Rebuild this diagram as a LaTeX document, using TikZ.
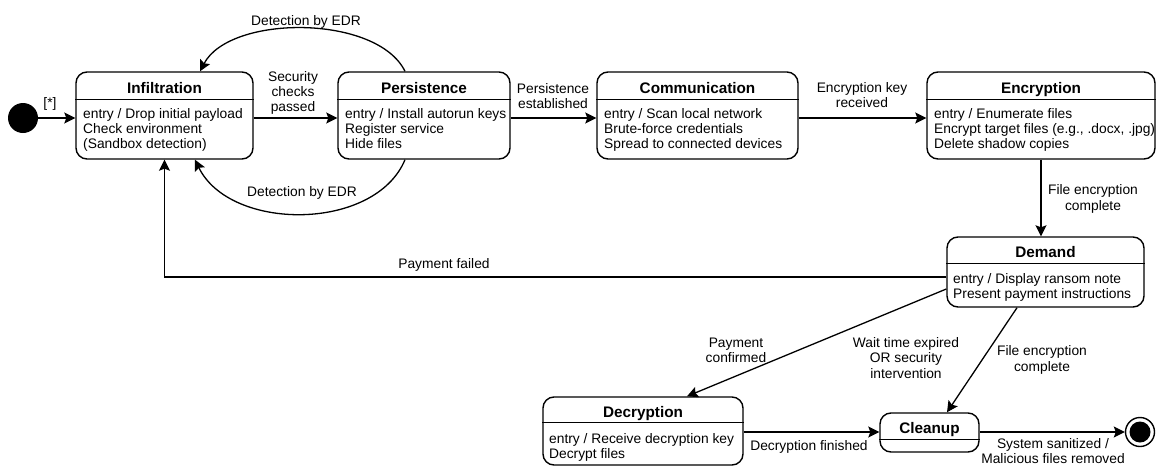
\documentclass[tikz,border=0pt]{standalone}
\usepackage{fontspec}
\setmainfont{Liberation Sans}
\usetikzlibrary{arrows.meta,calc}
\begin{document}
\begin{tikzpicture}[x=1pt,y=-1pt,
  stbox/.style={draw, line width=1.4pt, rounded corners=11pt, inner sep=0pt},
  ttl/.style={anchor=base, inner sep=0pt, font=\bfseries\fontsize{15.3}{17}\selectfont},
  body/.style={anchor=north west, inner sep=0pt, align=left, font=\fontsize{13.8}{15.3}\selectfont},
  lbl/.style={inner sep=0pt, align=center, font=\fontsize{13.8}{15.3}\selectfont},
  arr/.style={line width=1.3pt, -{Stealth[length=11pt,width=11pt,inset=2pt]}},
  sepline/.style={line width=1.3pt}]
\useasboundingbox (0,0) rectangle (1157,466);

% Infiltration
\node[stbox, minimum width=177pt, minimum height=87pt] (inf) at (164.5,115.5) {};
\draw[sepline] ($(inf.north west)+(0,28)$) -- ($(inf.north east)+(0,28)$);
\node[ttl] (infT) at (164.5,93) {Infiltration};
\node[body] (infB) at (83,108) {entry / Drop initial payload\\Check environment\\(Sandbox detection)};

% Persistence
\node[stbox, minimum width=172pt, minimum height=87pt] (per) at (424,115.5) {};
\draw[sepline] ($(per.north west)+(0,28)$) -- ($(per.north east)+(0,28)$);
\node[ttl] (perT) at (424,93) {Persistence};
\node[body] (perB) at (345,108) {entry / Install autorun keys\\Register service\\Hide files};

% Communication
\node[stbox, minimum width=201pt, minimum height=87pt] (com) at (697.5,115.5) {};
\draw[sepline] ($(com.north west)+(0,28)$) -- ($(com.north east)+(0,28)$);
\node[ttl] (comT) at (697.5,93) {Communication};
\node[body] (comB) at (604,108) {entry / Scan local network\\Brute-force credentials\\Spread to connected devices};

% Encryption
\node[stbox, minimum width=228pt, minimum height=87pt] (enc) at (1041,115.5) {};
\draw[sepline] ($(enc.north west)+(0,28)$) -- ($(enc.north east)+(0,28)$);
\node[ttl] (encT) at (1041,93) {Encryption};
\node[body] (encB) at (934,108) {entry / Enumerate files\\Encrypt target files (e.g., .docx, .jpg)\\Delete shadow copies};

% Demand
\node[stbox, minimum width=197pt, minimum height=70pt] (dem) at (1045.5,272) {};
\draw[sepline] ($(dem.north west)+(0,27)$) -- ($(dem.north east)+(0,27)$);
\node[ttl] (demT) at (1045.5,257) {Demand};
\node[body] (demB) at (953,273) {entry / Display ransom note\\Present payment instructions};

% Decryption
\node[stbox, minimum width=200pt, minimum height=68pt] (dec) at (643,431) {};
\draw[sepline] ($(dec.north west)+(0,26)$) -- ($(dec.north east)+(0,26)$);
\node[ttl] (decT) at (643,417) {Decryption};
\node[body] (decB) at (549,433) {entry / Receive decryption key\\Decrypt files};

% Cleanup
\node[stbox, minimum width=99pt, minimum height=39pt] (cln) at (929.5,432.5) {};
\draw[sepline] ($(cln.north west)+(0,27)$) -- ($(cln.north east)+(0,27)$);
\node[ttl] (clnT) at (929.5,433) {Cleanup};

% pseudo states
\node[circle, fill=black, minimum size=30pt, inner sep=0pt] (init) at (23,118) {};
\node[circle, draw, line width=1.4pt, minimum size=29pt, inner sep=0pt] (fin) at (1140,432) {};
\node[circle, fill=black, minimum size=21pt, inner sep=0pt] (finIn) at (fin) {};

% transitions
\draw[arr] (init.east) -- ($(inf.west)+(0,2.5)$);
\node[lbl] (lStar) at (50,104) {[*]};

\draw[arr] ($(inf.east)+(0,2.5)$) -- ($(per.west)+(0,2.5)$);
\node[lbl] (lSec) at (293,93) {Security\\checks\\passed};

\draw[arr] ($(per.east)+(0,2.5)$) -- ($(com.west)+(0,2.5)$);
\node[lbl] (lPers) at (553,96) {Persistence\\established};

\draw[arr] ($(com.east)+(0,2.5)$) -- ($(enc.west)+(0,2.5)$);
\node[lbl] (lKey) at (862,95) {Encryption key\\received};

\draw[arr] (enc.south) -- (enc.south |- dem.north);
\node[lbl] (lFile1) at (1093,199) {File encryption\\complete};

\draw[arr] ($(per.north)+(-19,0)$) .. controls +(-28,-57) and +(30,-57) .. ($(inf.north)+(35.5,0)$);
\node[lbl] (lDet1) at (306,22) {Detection by EDR};

\draw[arr] ($(per.south)+(-19,0)$) .. controls +(-30,72) and +(35,72) .. ($(inf.south)+(30.5,0)$);
\node[lbl] (lDet2) at (302,193) {Detection by EDR};

\draw[arr] ($(dem.west)+(0,5)$) -| (inf.south);
\node[lbl] (lPay) at (444,265) {Payment failed};

\draw[arr] ($(dem.west)+(0,17)$) -- ($(dec.north)+(44,0)$);
\node[lbl] (lConf) at (736,350) {Payment\\confirmed};
\node[lbl] (lWait) at (906,358) {Wait time expired\\OR security\\intervention};

\draw[arr] ($(dem.south)+(-28.5,0)$) -- ($(cln.north)+(17.5,0)$);
\node[lbl] (lFile2) at (1042,360) {File encryption\\complete};

\draw[arr] ($(dec.east)+(0,1)$) -- ($(cln.west)+(0,-0.5)$);
\node[lbl] (lDecF) at (809,447) {Decryption finished};

\draw[arr] ($(cln.east)+(0,-0.5)$) -- (fin.west);
\node[lbl] (lSys) at (1053,451) {System sanitized /\\Malicious files removed};
\end{tikzpicture}
\end{document}
